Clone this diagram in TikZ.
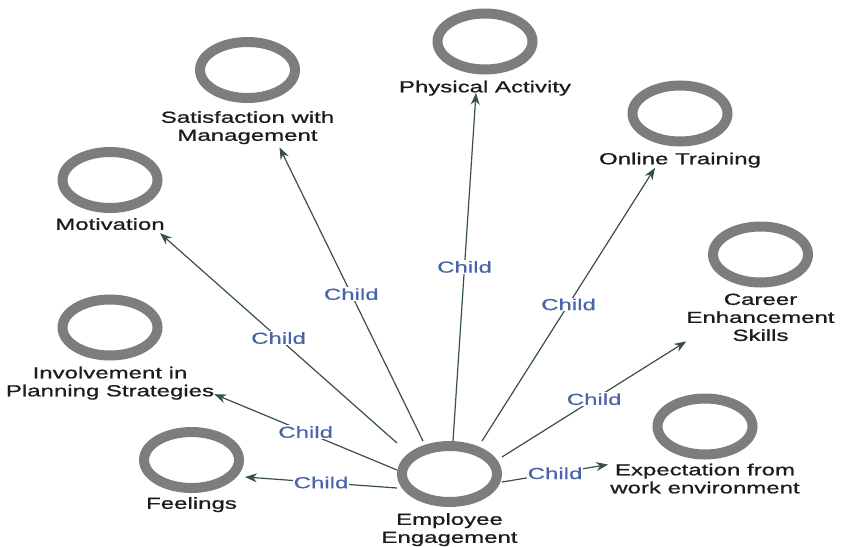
\documentclass[tikz,border=0pt]{standalone}
\usepackage{fontspec}
\setmainfont{Liberation Sans}[FakeStretch=1.5, FakeBold=1.0]
\newfontfamily\tagfont{Liberation Sans}[FakeStretch=1.5, FakeBold=0.4]
\usetikzlibrary{arrows.meta, positioning}

\definecolor{ringGray}{RGB}{125,125,125}
\definecolor{linkGreen}{RGB}{55,80,74}
\definecolor{childBlue}{RGB}{72,100,170}
\definecolor{textDark}{RGB}{28,28,28}

\begin{document}
\begin{tikzpicture}[
    x=1pt, y=-1pt,
    font=\fontsize{16}{18}\selectfont,
    % Ring Style
    ring/.style={
        rectangle, inner sep=0pt, outer sep=0pt,
        minimum width=105pt, minimum height=66pt,
        path picture={
            \draw[ringGray, line width=10pt] (path picture bounding box.center)
                ellipse [x radius=47.5pt, y radius=28pt];
        }
    },
    % Caption Style
    caption/.style={inner sep=0pt, align=center, text=textDark},
    % Link Styles
    childTag/.style={midway, fill=white, inner sep=1pt, text=childBlue,
        font=\tagfont\fontsize{16}{18}\selectfont},
    myLink/.style={-{Stealth[length=12pt, width=9pt]}, line width=1.2pt, draw=linkGreen}
]
    \useasboundingbox (0,0) rectangle (842,546);

    % --- CENTRE ---
    \node[ring] (ee) at (449.5,474) {};
    \node[caption, below=6pt of ee] (eel) {Employee\\Engagement};

    % --- CHILDREN ---
    \node[ring] (feel) at (191.5,460) {};
    \node[caption, below=4pt of feel] (feell) {Feelings};

    \node[ring] (inv) at (110,327.5) {};
    \node[caption, below=6pt of inv] (invl) {Involvement in\\Planning Strategies};

    \node[ring] (mot) at (110,180) {};
    \node[caption, below=5pt of mot] (motl) {Motivation};

    \node[ring] (sat) at (247.5,70) {};
    \node[caption, below=8pt of sat] (satl) {Satisfaction with\\Management};

    \node[ring] (phys) at (485,41.5) {};
    \node[caption, below=6pt of phys] (physl) {Physical Activity};

    \node[ring] (onl) at (680,113.5) {};
    \node[caption, below=6pt of onl] (onll) {Online Training};

    \node[ring] (car) at (760.5,254.5) {};
    \node[caption, below=6pt of car] (carl) {Career\\Enhancement\\Skills};

    \node[ring] (exp) at (705,426.5) {};
    \node[caption, below=4pt of exp] (expl) {Expectation from\\work environment};

    % --- LINKS ---
    \draw[myLink] ([yshift=-14pt]ee.west) -- node[childTag] {Child} ([xshift=1pt, yshift=-17pt]feel.east);
    \draw[myLink] ([yshift=4pt]ee.west) -- node[childTag] {Child} ([yshift=-11pt]invl.east);
    \draw[myLink] ([yshift=-2pt]ee.north west) -- node[childTag] {Child} ([xshift=50pt, yshift=-3pt]motl.south);
    \draw[myLink] ([xshift=-26.5pt]ee.north) -- node[childTag] {Child} ([xshift=32pt, yshift=-3pt]satl.south);
    \draw[myLink] ([xshift=3.5pt]ee.north) -- node[childTag] {Child} ([xshift=-9pt, yshift=3pt]physl.south);
    \draw[myLink] ([xshift=32.5pt]ee.north) -- node[childTag] {Child} ([xshift=-25pt]onll.south);
    \draw[myLink] ([yshift=17pt]ee.east) -- node[childTag] {Child} ([yshift=-24pt]carl.west);
    \draw[myLink] ([yshift=-8pt]ee.east) -- node[childTag] {Child} ([xshift=-2pt, yshift=14pt]expl.west);

\end{tikzpicture}
\end{document}
